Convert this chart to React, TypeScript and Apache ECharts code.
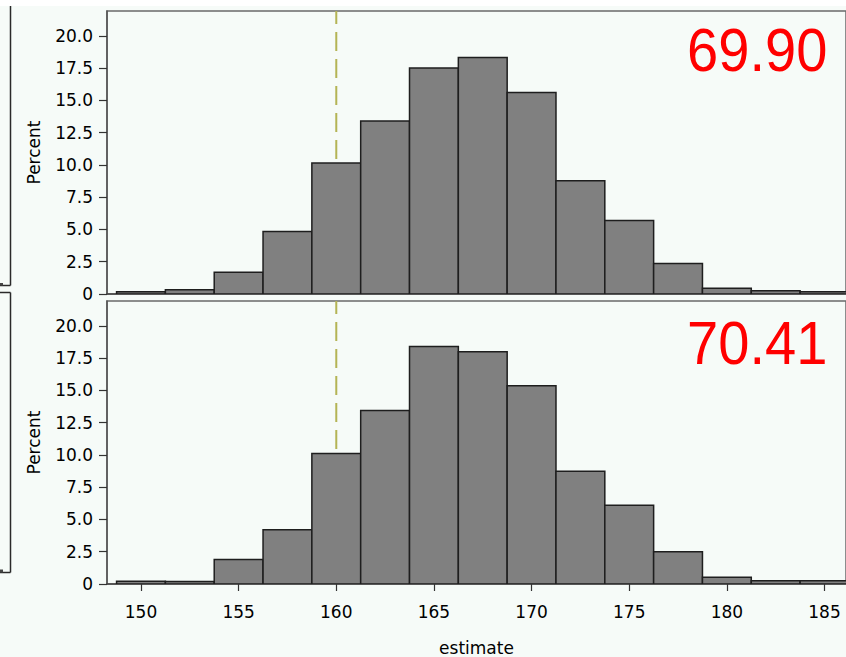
import React, { useEffect, useRef } from "react";
import * as echarts from "echarts";

const binCenters = [150, 152.5, 155, 157.5, 160, 162.5, 165, 167.5, 170, 172.5, 175, 177.5, 180, 182.5, 185];
const topPercent = [0.18, 0.33, 1.68, 4.85, 10.16, 13.41, 17.52, 18.32, 15.61, 8.77, 5.7, 2.37, 0.44, 0.26, 0.18];
const bottomPercent = [0.21, 0.2, 1.9, 4.2, 10.12, 13.44, 18.41, 17.99, 15.37, 8.73, 6.1, 2.5, 0.52, 0.26, 0.26];
const yTicks = [0, 2.5, 5, 7.5, 10, 12.5, 15, 17.5, 20];
const xTicks = [150, 155, 160, 165, 170, 175, 180, 185];
const refValue = 160;
const statLabels = ["69.90", "70.41"];
const binWidth = 2.5;

const BG = "#f6fbf8";
const FONT = "DejaVu Sans";

export default function App() {
  const ref = useRef<HTMLDivElement>(null);
  useEffect(() => {
    if (!ref.current) return;
    const chart = echarts.init(ref.current, null, { renderer: "svg" });
    const yMax = 21.93;
    const xMin = 148.26;
    const xMax = 186.1;

    const renderBar = (params: any, api: any) => {
      const c = api.value(0);
      const v = api.value(1);
      const p0 = api.coord([c - binWidth / 2, v]);
      const p1 = api.coord([c + binWidth / 2, 0]);
      return {
        type: "rect",
        shape: { x: p0[0], y: p0[1], width: p1[0] - p0[0], height: p1[1] - p0[1] },
        style: { fill: "#808080", stroke: "#1e1e1e", lineWidth: 1.5 },
      };
    };

    const yAxisCfg = (idx: number) => ({
      type: "value",
      gridIndex: idx,
      min: 0,
      max: yMax,
      name: "Percent",
      nameLocation: "middle",
      nameGap: 65,
      nameRotate: 90,
      nameTextStyle: { fontFamily: FONT, fontSize: 17, color: "#000" },
      axisLine: { show: true, lineStyle: { color: "#555", width: 1.5 } },
      axisTick: { show: true, length: 8, customValues: yTicks, lineStyle: { color: "#333", width: 1.2 } },
      axisLabel: {
        customValues: yTicks,
        margin: 14,
        fontFamily: FONT,
        fontSize: 17,
        color: "#000",
        formatter: (v: number) => (v === 0 ? "0" : v.toFixed(1)),
      },
      splitLine: { show: false },
    });

    const xAxisCfg = (idx: number, showLabels: boolean) => ({
      type: "value",
      gridIndex: idx,
      min: xMin,
      max: xMax,
      name: showLabels ? "estimate" : "",
      nameLocation: "middle",
      nameGap: 55,
      nameTextStyle: { fontFamily: FONT, fontSize: 17, color: "#000" },
      axisLine: { show: true, onZero: false, lineStyle: { color: "#444", width: 1.5 } },
      axisTick: { show: showLabels, length: 7, customValues: xTicks, lineStyle: { color: "#333", width: 1.2 } },
      axisLabel: {
        show: showLabels,
        customValues: xTicks,
        margin: 19,
        fontFamily: FONT,
        fontSize: 17,
        color: "#000",
      },
      splitLine: { show: false },
    });

    const refLine = (idx: number) => ({
      type: "line",
      xAxisIndex: idx,
      yAxisIndex: idx,
      data: [
        [refValue, 0],
        [refValue, yMax],
      ],
      symbol: "none",
      z: 1,
      lineStyle: { color: "#b4b455", width: 2, type: [19, 8] },
      silent: true,
    });

    const barSeries = (idx: number, vals: number[]) => ({
      type: "custom",
      xAxisIndex: idx,
      yAxisIndex: idx,
      clip: true,
      z: 3,
      renderItem: renderBar,
      data: binCenters.map((c, i) => [c, vals[i]]),
    });

    const edge = { stroke: "#2a2a2a", lineWidth: 1.5 };
    const partialPanelLines = [
      { type: "line", shape: { x1: 10.5, y1: 6, x2: 10.5, y2: 285.5 }, style: edge },
      { type: "line", shape: { x1: 0, y1: 285.5, x2: 10.5, y2: 285.5 }, style: edge },
      { type: "rect", shape: { x: 0, y: 283, width: 3, height: 2.5 }, style: { fill: "#444" } },
      { type: "line", shape: { x1: 0, y1: 292.5, x2: 10.5, y2: 292.5 }, style: edge },
      { type: "line", shape: { x1: 10.5, y1: 292.5, x2: 10.5, y2: 572.5 }, style: edge },
      { type: "line", shape: { x1: 0, y1: 572.5, x2: 10.5, y2: 572.5 }, style: edge },
      { type: "rect", shape: { x: 0, y: 569.5, width: 3, height: 3 }, style: { fill: "#444" } },
    ];

    const statText = (label: string, y: number) => ({
      type: "text",
      x: 687,
      y,
      scaleX: 0.92,
      z: 20,
      style: {
        text: label,
        x: 0,
        y: 0,
        fontFamily: "Liberation Sans",
        fontSize: 61,
        fill: "#ff0000",
        align: "left",
        verticalAlign: "middle",
      },
    });

    chart.setOption({
      animation: false,
      backgroundColor: BG,
      grid: [
        { left: 107, top: 11, right: 0, height: 283, show: true, backgroundColor: BG, borderColor: "#6a6a6a", borderWidth: 1.5 },
        { left: 107, top: 301, right: 0, height: 284, show: true, backgroundColor: BG, borderColor: "#6a6a6a", borderWidth: 1.5 },
      ],
      xAxis: [xAxisCfg(0, false), xAxisCfg(1, true)],
      yAxis: [yAxisCfg(0), yAxisCfg(1)],
      series: [refLine(0), barSeries(0, topPercent), refLine(1), barSeries(1, bottomPercent)],
      graphic: [
        { type: "rect", shape: { x: 0, y: 0, width: 846, height: 6 }, style: { fill: "#ffffff" }, z: 10 },
        ...partialPanelLines.map((g) => ({ ...g, z: 10 })),
        statText(statLabels[0], 50),
        statText(statLabels[1], 343),
      ],
    });
    return () => chart.dispose();
  }, []);

  return (
    <div
      ref={ref}
      style={{ position: "absolute", left: 0, top: 0, width: 846, height: 657 }}
    />
  );
}
